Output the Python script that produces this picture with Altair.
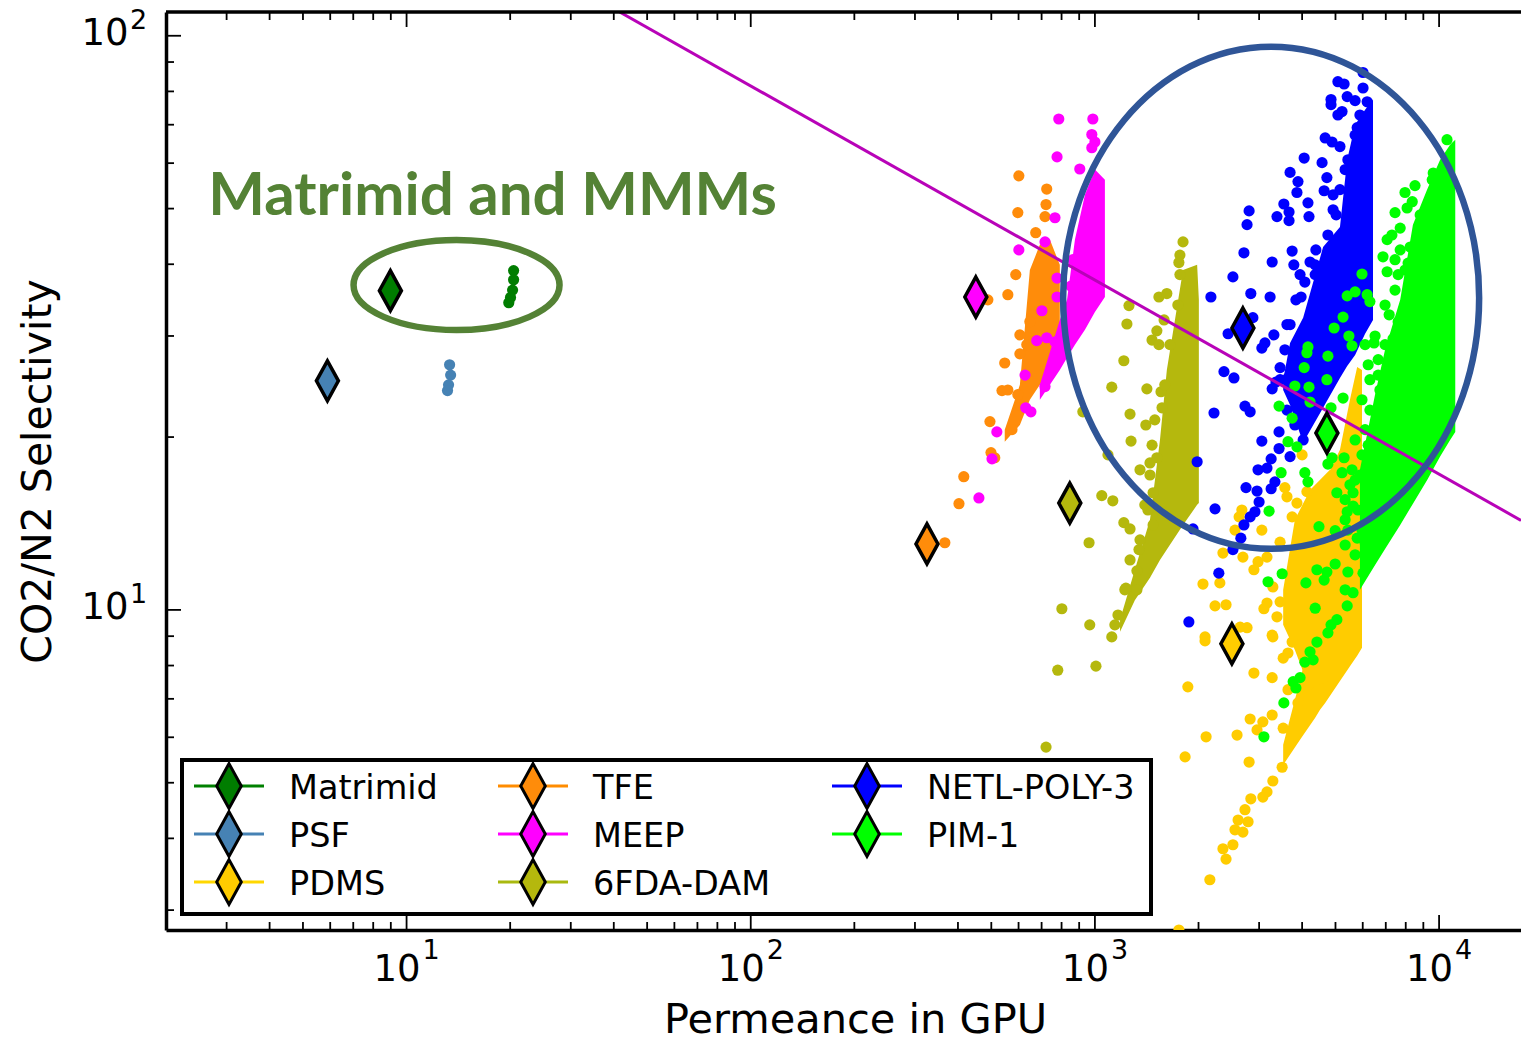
import altair as alt
import pandas as pd

# ---- readings from the picture, as (log10 permeance, log10 selectivity) ----
MATRIMID_DOTS = [(1.311,1.591),(1.311,1.575),(1.308,1.557),(1.302,1.544),(1.297,1.535)]
PSF_DOTS = [(1.125,1.427),(1.128,1.409),(1.122,1.392),(1.119,1.382)]
PDMS_DOTS = [(3.602,1.270),(3.552,1.213),(3.558,1.197),(3.616,1.206),(3.587,1.186),(3.573,1.162),(3.427,1.174),(3.419,1.162),(3.407,1.139),(3.485,1.139),(3.538,1.118),(3.372,1.099),(3.430,1.092),(3.500,1.092),(3.474,1.084),(3.462,1.070),(3.363,1.047),(3.314,1.045),(3.517,1.040),(3.349,1.007),(3.381,1.009),(3.538,1.014),(3.500,1.012),(3.491,1.002),(3.529,0.988),(3.320,0.953),(3.422,0.970),(3.515,0.956),(3.320,0.946),(3.270,0.866),(3.462,0.890),(3.515,0.882),(3.451,0.810),(3.515,0.817),(3.488,0.805),(3.471,0.791),(3.547,0.794),(3.413,0.782),(3.323,0.779),(3.262,0.744),(3.448,0.735),(3.544,0.726),(3.517,0.702),(3.500,0.683),(3.488,0.674),(3.453,0.671),(3.436,0.652),(3.416,0.634),(3.445,0.631),(3.407,0.617),(3.430,0.613),(3.401,0.591),(3.372,0.584),(3.381,0.566),(3.334,0.530),(3.547,0.916),(3.561,0.925),(3.561,0.861),(3.590,0.838),(3.517,0.953),(3.573,0.944),(3.442,0.969),(3.244,0.4425)]
TFE_DOTS = [(2.779,1.756),(2.860,1.733),(2.858,1.706),(2.776,1.692),(2.855,1.685),(2.828,1.657),(2.770,1.584),(2.747,1.549),(2.811,1.502),(2.782,1.479),(2.782,1.446),(2.738,1.430),(2.730,1.382),(2.747,1.383),(2.776,1.375),(2.802,1.462),(2.689,1.540),(2.695,1.328),(2.698,1.274),(2.709,1.265),(2.619,1.232),(2.605,1.185),(2.564,1.117),(2.759,1.314),(2.782,1.357)]
MEEP_DOTS = [(2.895,1.855),(2.994,1.855),(2.991,1.828),(3.000,1.815),(2.991,1.805),(2.890,1.789),(2.956,1.768),(2.884,1.683),(2.855,1.641),(2.779,1.627),(2.890,1.578),(2.930,1.564),(2.846,1.521),(2.890,1.545),(2.831,1.469),(2.860,1.474),(2.884,1.467),(2.797,1.409),(2.855,1.389),(2.936,1.610),(2.959,1.605),(2.799,1.352),(2.814,1.345),(2.715,1.310),(2.701,1.263),(2.663,1.195)]
FDA_DOTS = [(3.256,1.641),(3.247,1.618),(3.244,1.605),(3.186,1.545),(3.209,1.551),(3.241,1.531),(3.099,1.530),(3.093,1.498),(3.180,1.486),(3.166,1.470),(3.186,1.462),(3.201,1.505),(3.084,1.434),(3.049,1.388),(3.151,1.385),(3.192,1.380),(3.102,1.341),(3.148,1.322),(3.195,1.352),(3.105,1.294),(2.965,1.345),(3.038,1.270),(3.131,1.244),(3.160,1.256),(3.180,1.265),(3.020,1.199),(3.052,1.190),(3.169,1.204),(3.154,1.174),(3.169,1.148),(3.084,1.152),(3.102,1.141),(2.983,1.117),(3.128,1.105),(3.122,1.068),(3.090,1.038),(3.122,1.035),(2.904,1.002),(2.985,0.974),(3.049,0.953),(2.892,0.895),(3.003,0.902),(2.858,0.761),
            (3.247,1.584),(3.218,1.462),(3.203,1.392),(3.174,1.331),(3.166,1.287),(3.160,1.235),(3.145,1.183),(3.131,1.122),(3.102,1.087),(3.087,1.035),(3.067,0.991),(3.058,0.974)]
NETL_DOTS = [(3.706,1.920),(3.724,1.916),(3.779,1.936),(3.779,1.909),(3.686,1.889),(3.686,1.880),(3.733,1.894),(3.756,1.887),(3.791,1.885),(3.718,1.868),(3.706,1.862),(3.762,1.840),(3.669,1.822),(3.689,1.815),(3.712,1.807),(3.735,1.784),(3.608,1.787),(3.660,1.779),(3.567,1.762),(3.590,1.746),(3.587,1.727),(3.674,1.753),(3.666,1.730),(3.692,1.723),(3.549,1.707),(3.619,1.709),(3.564,1.693),(3.529,1.685),(3.564,1.678),(3.622,1.685),(3.448,1.695),(3.442,1.671),(3.692,1.697),(3.433,1.622),(3.515,1.606),(3.573,1.625),(3.578,1.601),(3.640,1.601),(3.640,1.584),(3.401,1.580),(3.610,1.571),(3.680,1.578),(3.337,1.545),(3.453,1.551),(3.509,1.545),(3.599,1.545),(3.387,1.481),(3.459,1.509),(3.558,1.497),(3.520,1.479),(3.494,1.465),(3.485,1.456),(3.375,1.415),(3.404,1.404),(3.538,1.422),(3.581,1.427),(3.346,1.343),(3.436,1.355),(3.451,1.345),(3.515,1.385),(3.526,1.397),(3.561,1.404),(3.535,1.310),(3.485,1.294),(3.535,1.281),(3.567,1.267),(3.512,1.263),(3.500,1.247),(3.474,1.244),(3.523,1.223),(3.512,1.211),(3.439,1.213),(3.471,1.207),(3.477,1.188),(3.349,1.176),(3.465,1.171),(3.451,1.162),(3.433,1.148),(3.424,1.125),(3.401,1.105),(3.360,1.064),(3.297,1.258),(3.285,1.141),(3.273,0.979),
             (3.727,1.767),(3.712,1.732),(3.701,1.688),(3.677,1.653),(3.642,1.627),(3.625,1.606),(3.596,1.584),(3.584,1.540),(3.567,1.497),(3.552,1.453),(3.538,1.401),(3.756,1.827),(3.770,1.862),(3.558,1.348),(3.581,1.322),(3.605,1.296)]
PIM_DOTS = [(4.023,1.819),(3.983,1.761),(3.930,1.739),(3.901,1.727),(3.922,1.711),(3.872,1.692),(3.907,1.700),(3.887,1.665),(3.863,1.653),(3.849,1.645),(3.916,1.632),(3.837,1.615),(3.872,1.610),(3.849,1.589),(3.881,1.584),(3.910,1.604),(3.930,1.604),(3.776,1.585),(3.733,1.547),(3.756,1.554),(3.791,1.549),(3.799,1.537),(3.721,1.510),(3.695,1.491),(3.738,1.477),(3.747,1.460),(3.619,1.458),(3.616,1.448),(3.677,1.442),(3.814,1.477),(3.811,1.465),(3.866,1.472),(3.855,1.514),(3.881,1.502),(3.608,1.422),(3.674,1.401),(3.622,1.388),(3.581,1.390),(3.625,1.362),(3.535,1.355),(3.573,1.334),(3.721,1.369),(3.686,1.352),(3.561,1.293),(3.587,1.284),(3.689,1.265),(3.724,1.265),(3.677,1.254),(3.718,1.239),(3.541,1.239),(3.610,1.239),(3.619,1.223),(3.703,1.204),(3.750,1.204),(3.750,1.181),(3.733,1.171),(3.506,1.172),(3.651,1.145),(3.698,1.138),(3.762,1.125),(3.785,1.117),(3.645,1.070),(3.698,1.080),(3.674,1.066),(3.666,1.052),(3.735,1.066),(3.544,1.063),(3.503,1.049),(3.613,1.047),(3.640,1.003),(3.733,1.007),(3.750,1.030),(3.779,1.064),(3.799,1.084),(3.703,0.983),(3.677,0.960),(3.645,0.944),(3.625,0.927),(3.610,0.909),(3.634,0.913),(3.596,0.882),(3.576,0.875),(3.584,0.864),(3.549,0.838),(3.491,0.779),(3.776,1.366),(3.785,1.314),(3.776,1.270),(3.799,1.401),(3.823,1.436),(3.843,1.462),(3.756,1.296),(3.747,1.244),(3.727,1.157),(3.764,1.174),(3.727,1.035),(3.686,0.974),
            (3.785,1.462),(3.823,1.409),(3.794,1.427),(3.828,1.383),(3.799,1.348),(3.823,1.314),(3.794,1.287),(3.770,1.235),(3.741,1.218),(3.727,1.192),(3.756,1.226),(3.727,1.113),(3.756,1.096),(3.776,1.139),(3.735,1.139),(3.901,1.592),(3.872,1.557),(3.843,1.531),(3.945,1.688),(3.980,1.749),(3.887,1.627)]

# dense parts of each cloud: (log10 permeance, upper, lower log10 selectivity)
PDMS_BAND_A = [(3.547,0.765,0.730),(3.596,0.878,0.774),(3.640,0.983,0.812),(3.654,1.209,0.826),(3.669,1.226,0.838),(3.712,1.279,0.876),(3.741,1.366,0.902),(3.762,1.423,0.920),(3.776,1.418,0.934)]
PDMS_BAND_B = [(3.547,1.035,0.974),(3.581,1.157,0.930),(3.625,1.209,0.861),(3.683,1.244,0.878)]
TFE_BAND = [(2.738,1.314,1.293),(2.782,1.392,1.322),(2.811,1.592,1.366),(2.840,1.636,1.392),(2.869,1.645,1.418),(2.898,1.601,1.453)]
MEEP_BAND = [(2.840,1.392,1.366),(2.898,1.505,1.418),(2.919,1.540,1.439),(2.942,1.645,1.462),(2.971,1.723,1.488),(3.000,1.767,1.519),(3.029,1.749,1.545)]
FDA_BAND = [(3.073,0.983,0.962),(3.116,1.070,1.017),(3.160,1.157,1.056),(3.189,1.296,1.087),(3.209,1.418,1.105),(3.256,1.592,1.148),(3.297,1.601,1.183),(3.302,1.540,1.186)]
NETL_BAND = [(3.547,1.401,1.383),(3.567,1.465,1.357),(3.605,1.509,1.291),(3.663,1.632,1.352),(3.712,1.667,1.404),(3.733,1.784,1.425),(3.756,1.845,1.444),(3.785,1.871,1.481),(3.808,1.889,1.505)]
PIM_BAND = [(3.770,1.244,1.035),(3.814,1.375,1.078),(3.843,1.453,1.106),(3.887,1.540,1.148),(3.924,1.671,1.185),(3.965,1.732,1.226),(4.003,1.784,1.267),(4.032,1.810,1.296),(4.047,1.819,1.310)]

NAMES = ["Matrimid","PSF","PDMS","TFE","MEEP","6FDA-DAM","NETL-POLY-3","PIM-1"]
COLORS = ["#007d00","#4682b4","#ffcc00","#ff8c0a","#ff00ff","#b5b80d","#0000ff","#00ff00"]
LINE_COLORS = ["#008000","#4682b4","#ffd700","#ff8c00","#ff00ff","#a9b90f","#0000ff","#00ff00"]
DIAMOND_LOGX = [0.953,0.770,3.398,2.512,2.654,2.927,3.430,3.674]
DIAMOND_LOGY = [1.556,1.399,0.941,1.115,1.545,1.186,1.491,1.308]
DOTS = [MATRIMID_DOTS,PSF_DOTS,PDMS_DOTS,TFE_DOTS,MEEP_DOTS,FDA_DOTS,NETL_DOTS,PIM_DOTS]
BANDS = [[],[],[PDMS_BAND_A,PDMS_BAND_B],[TFE_BAND],[MEEP_BAND],[FDA_BAND],[NETL_BAND],[PIM_BAND]]

LIMIT_X = [41.6,17298]
LIMIT_Y = [110,14.32]

X_MAJOR = [10,100,1000,10000]
X_EXPONENT = ["1","2","3","4"]
X_MINOR = [3,4,5,6,7,8,9,20,30,40,50,60,70,80,90,200,300,400,500,600,700,800,900,2000,3000,4000,5000,6000,7000,8000,9000]
Y_MAJOR = [10,100]
Y_EXPONENT = ["1","2"]
Y_MINOR = [3,4,5,6,7,8,9,20,30,40,50,60,70,80,90]

W, H = 1355, 918
xs = alt.Scale(type="log", domain=[2,17298], nice=False)
ys = alt.Scale(type="log", domain=[2.77,110], nice=False)
FONT = "DejaVu Sans"

x_axis = alt.Axis(values=X_MAJOR, labelExpr="'10'", ticks=False, grid=False, domainColor="black",
                  domainWidth=3.5, labelFont=FONT, labelFontSize=37, labelColor="black",
                  labelPadding=21, labelOffset=-10, labelOverlap=False, labelFlush=False,
                  title="Permeance in GPU", titleFont=FONT, titleFontSize=41.5, titleFontWeight="normal",
                  titleColor="black", titlePadding=12, titleX=689)
y_axis = alt.Axis(values=Y_MAJOR, labelExpr="'10'", ticks=False, grid=False, domainColor="black",
                  domainWidth=3.5, labelFont=FONT, labelFontSize=37, labelColor="black",
                  labelPadding=38, labelOffset=-2, labelOverlap=False, labelFlush=False,
                  title="CO2/N2 Selectivity", titleFont=FONT, titleFontSize=41, titleFontWeight="normal",
                  titleColor="black", titlePadding=21)

def X(f):
    return alt.X(f, type="quantitative", scale=xs, axis=x_axis)
def Y(f):
    return alt.Y(f, type="quantitative", scale=ys, axis=y_axis)

layers = []

for name, col, dots, bands in zip(NAMES, COLORS, DOTS, BANDS):
    for band in bands:
        d = pd.DataFrame(band, columns=["lx","hi","lo"])
        d["x"] = 10**d["lx"]; d["hi"] = 10**d["hi"]; d["lo"] = 10**d["lo"]
        layers.append(alt.Chart(d).mark_area(color=col, opacity=1, clip=True, line=False).encode(
            x=X("x"), y=Y("hi"), y2=alt.Y2("lo")))
    d = pd.DataFrame(dots, columns=["lx","ly"])
    d["x"] = 10**d["lx"]; d["y"] = 10**d["ly"]
    layers.append(alt.Chart(d).mark_circle(size=125, color=col, opacity=1, clip=True).encode(x=X("x"), y=Y("y")))

layers.append(alt.Chart(pd.DataFrame({"x":LIMIT_X,"y":LIMIT_Y})).mark_line(color="#b803b8", strokeWidth=3, clip=True).encode(
    x=X("x"), y=Y("y")))

DIAMOND = "M0,-1L0.55,0L0,1L-0.55,0Z"
dd = pd.DataFrame({"x":[10**v for v in DIAMOND_LOGX],"y":[10**v for v in DIAMOND_LOGY],"c":COLORS})
layers.append(alt.Chart(dd).mark_point(shape=DIAMOND, size=1600, filled=True, opacity=1, stroke="black", strokeWidth=3.5).encode(
    x=X("x"), y=Y("y"), fill=alt.Fill("c:N", scale=None)))

# axis frame and inward ticks
for vals, n in ((X_MAJOR,15),(X_MINOR,8)):
    d = pd.DataFrame({"v":vals})
    layers.append(alt.Chart(d).mark_rule(color="black", strokeWidth=1.8).encode(x=X("v"), y=alt.value(H), y2=alt.value(H-n)))
    layers.append(alt.Chart(d).mark_rule(color="black", strokeWidth=1.8).encode(x=X("v"), y=alt.value(0), y2=alt.value(n)))
for vals, n in ((Y_MAJOR,15),(Y_MINOR,8)):
    d = pd.DataFrame({"v":vals})
    layers.append(alt.Chart(d).mark_rule(color="black", strokeWidth=1.8).encode(y=Y("v"), x=alt.value(0), x2=alt.value(n)))
layers.append(alt.Chart(pd.DataFrame({"v":[0]})).mark_rule(color="black", strokeWidth=3.5).encode(
    x=alt.value(0), x2=alt.value(W), y=alt.value(0)))

# tick-label exponents
layers.append(alt.Chart(pd.DataFrame({"v":X_MAJOR,"e":X_EXPONENT})).mark_text(
    font=FONT, fontSize=27, color="black", align="left", baseline="middle", dx=16).encode(
    x=X("v"), y=alt.value(939), text="e:N"))
layers.append(alt.Chart(pd.DataFrame({"v":Y_MAJOR,"e":Y_EXPONENT})).mark_text(
    font=FONT, fontSize=27, color="black", align="left", baseline="middle", dy=-15).encode(
    y=Y("v"), x=alt.value(-36), text="e:N"))

# annotations
layers.append(alt.Chart(pd.DataFrame({"x":[3251],"y":[34.97]})).mark_point(
    shape="M-1,0A1,1.207 0 1,1 1,0A1,1.207 0 1,1 -1,0Z", size=173056, filled=False, opacity=1,
    color="#2f5597", strokeWidth=6.5).encode(x=X("x"), y=Y("y")))
layers.append(alt.Chart(pd.DataFrame({"x":[13.97],"y":[36.8]})).mark_point(
    shape="M-1,0A1,0.437 0 1,1 1,0A1,0.437 0 1,1 -1,0Z", size=42436, filled=False, opacity=1,
    color="#548235", strokeWidth=6.5).encode(x=X("x"), y=Y("y")))
layers.append(alt.Chart(pd.DataFrame({"x":[17.78],"y":[52.4],"t":["Matrimid and MMMs"]})).mark_text(
    font="Lato", fontWeight="bold", fontSize=60, color="#548235", align="center", baseline="middle").encode(
    x=X("x"), y=Y("y"), text="t:N"))

# legend box
LEG_OX, LEG_OY = 166, 12
layers.append(alt.Chart(pd.DataFrame({"v":[0]})).mark_rect(fill="white", stroke="black", strokeWidth=4).encode(
    x=alt.value(182-LEG_OX), x2=alt.value(1151-LEG_OX), y=alt.value(760-LEG_OY), y2=alt.value(914-LEG_OY)))
LEG_COL = [229,229,229,533,533,533,867,867]
LEG_TXT = [289,289,289,593,593,593,927,927]
LEG_ROW = [786,834,882,786,834,882,786,834]
for name, col, lc, cx, tx, ry in zip(NAMES, COLORS, LINE_COLORS, LEG_COL, LEG_TXT, LEG_ROW):
    d = pd.DataFrame({"name":[name],"c":[col]})
    layers.append(alt.Chart(d).mark_rule(color=lc, strokeWidth=3).encode(
        x=alt.value(cx-35-LEG_OX), x2=alt.value(cx+35-LEG_OX), y=alt.value(ry-LEG_OY)))
    layers.append(alt.Chart(d).mark_point(shape=DIAMOND, size=2000, filled=True, opacity=1, stroke="black", strokeWidth=3, fill=col).encode(
        x=alt.value(cx-LEG_OX), y=alt.value(ry-LEG_OY)))
    layers.append(alt.Chart(d).mark_text(font=FONT, fontSize=33.5, color="black", align="left", baseline="middle", dy=3).encode(
        x=alt.value(tx-LEG_OX), y=alt.value(ry-LEG_OY), text="name:N"))

chart = alt.layer(*layers).properties(width=W, height=H,
    autosize=alt.AutoSizeParams(type="none"),
    padding={"left":158,"top":4,"right":0,"bottom":106}, background="white"
    ).configure_view(stroke=None)
chart.save("out.html", embed_options={"renderer":"svg","actions":False})
